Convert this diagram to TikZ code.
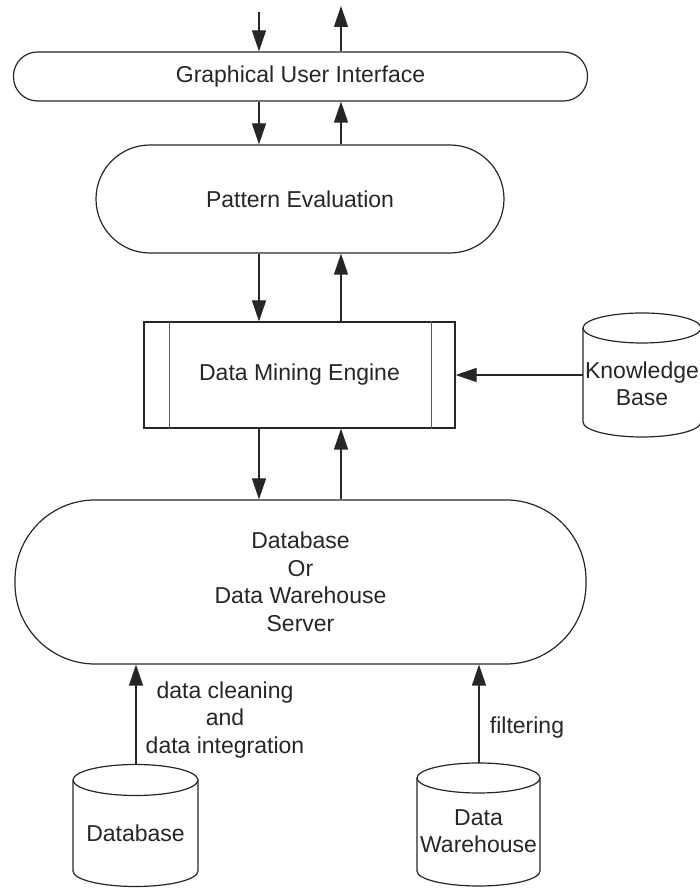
\documentclass[tikz,border=0pt]{standalone}
\usepackage{fontspec}
\setmainfont{Liberation Sans}
\usetikzlibrary{arrows.meta}
\begin{document}
\begin{tikzpicture}[x=1pt,y=1pt,
  ln/.style={line width=1.2pt, draw=black!85},
  txt/.style={font=\fontsize{23}{27.5}\selectfont, text=black!85, align=center, inner sep=0pt},
  box/.style={ln, txt, draw},
  arr/.style={ln, -{Triangle[length=21pt,width=14pt]}}]
\useasboundingbox (0,0) rectangle (700,888);
% main boxes
\node[box, rounded corners=24pt, minimum width=574pt, minimum height=49pt] (gui) at (300.5,811.5) {Graphical User Interface};
\node[box, rounded corners=54pt, minimum width=408pt, minimum height=108pt] (pe) at (300,689) {Pattern Evaluation};
\node[box, minimum width=311pt, minimum height=106pt] (dme) at (299.5,513) {Data Mining Engine};
\draw[ln, line width=1.6pt, draw=black!65] ([xshift=26pt]dme.north west) -- ([xshift=26pt]dme.south west);
\draw[ln, line width=1.6pt, draw=black!65] ([xshift=-24pt]dme.north east) -- ([xshift=-24pt]dme.south east);
\node[box, rounded corners=80pt, minimum width=571pt, minimum height=164pt] (srv) at (300.5,306) {Database\\Or\\Data Warehouse\\Server};
% cylinders
\node[txt] (kb) at (642,504) {Knowledge\\Base};
\draw[ln] (583,560) -- (583,466) arc[start angle=180, end angle=360, x radius=59, y radius=15] -- (701,560);
\draw[ln] (642,560) ellipse[x radius=59, y radius=15];
\coordinate (kbw) at (583,513);
\node[txt] (db) at (135.5,55) {Database};
\draw[ln] (73,108) -- (73,17) arc[start angle=180, end angle=360, x radius=62.5, y radius=15.5] -- (198,108);
\draw[ln] (135.5,108) ellipse[x radius=62.5, y radius=15.5];
\coordinate (dbtop) at (136,123.5);
\node[txt] (dw) at (478.5,57) {Data\\Warehouse};
\draw[ln] (417,110) -- (417,17) arc[start angle=180, end angle=360, x radius=61.5, y radius=15] -- (540,110);
\draw[ln] (478.5,110) ellipse[x radius=61.5, y radius=15];
\coordinate (dwtop) at (479,125);
% arrow columns
\coordinate (dx) at (259,0);
\coordinate (ux) at (341,0);
\coordinate (inp) at (259,876);
\coordinate (outp) at (341,882);
% connectors
\draw[arr] (inp) -- (gui.north -| inp);
\draw[arr] (gui.north -| outp) -- (outp);
\draw[arr] (gui.south -| dx) -- (pe.north -| dx);
\draw[arr] (pe.north -| ux) -- (gui.south -| ux);
\draw[arr] (pe.south -| dx) -- (dme.north -| dx);
\draw[arr] (dme.north -| ux) -- (pe.south -| ux);
\draw[arr] (dme.south -| dx) -- (srv.north -| dx);
\draw[arr] (srv.north -| ux) -- (dme.south -| ux);
\draw[arr] (kbw) -- (dme.east |- kbw);
\draw[arr] (dbtop) -- (srv.south -| dbtop);
\draw[arr] (dwtop) -- (srv.south -| dwtop);
% labels
\node[txt] (lbl1) at (225,168) {data cleaning\\and\\data integration};
\node[txt] (lbl2) at (527,160) {filtering};
\end{tikzpicture}
\end{document}
